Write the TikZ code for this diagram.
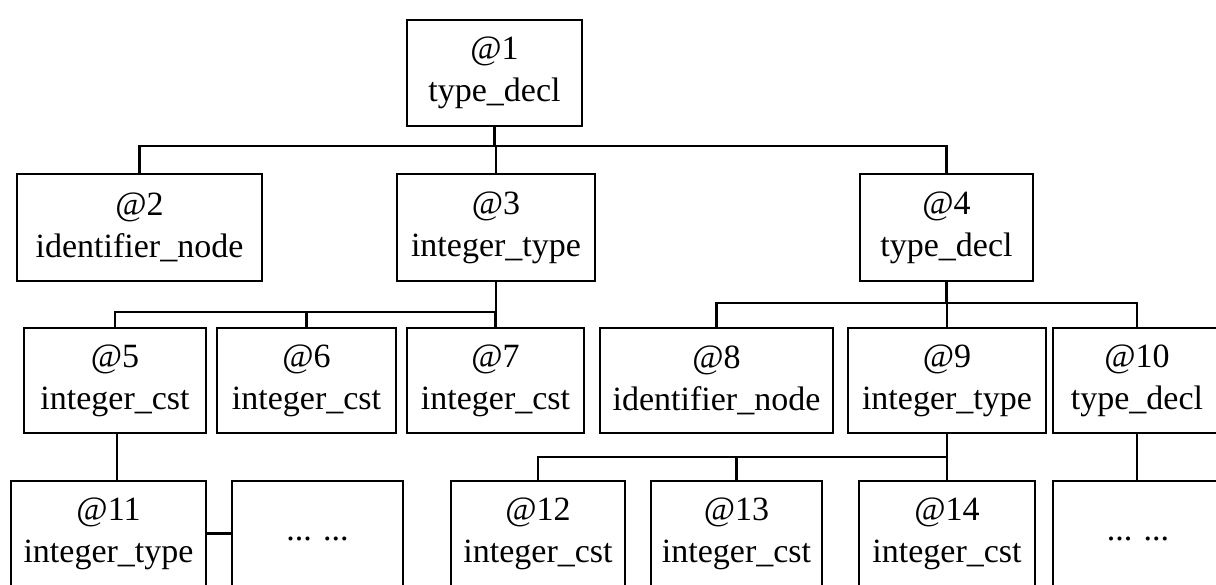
\documentclass[tikz,border=0pt]{standalone}
\usepackage{fontspec}
\setmainfont{Liberation Serif}
\tikzset{
  nodo/.style={draw, line width=2.4pt, minimum height=105pt, inner sep=0pt,
    align=center, font=\fontsize{34}{42}\selectfont},
  puntini/.style={nodo, text height=14pt, text depth=0pt},
  ramo/.style={line width=2.4pt}
}
\begin{document}
\begin{tikzpicture}[x=1pt, y=1pt]
        % Cornice della figura
        \useasboundingbox (0,0) rectangle (1216,585);
        \clip (0,0) rectangle (1216,585);

        % Radice
        \node[nodo, minimum width=175pt, minimum height=106pt] (n1) at (494.5,512) {@1\\type\_decl};

        % Secondo livello
        \node[nodo, minimum width=245pt, minimum height=107pt] (n2) at (139.5,357.5) {@2\\identifier\_node};
        \node[nodo, minimum width=198pt, minimum height=107pt] (n3) at (496,357.5) {@3\\integer\_type};
        \node[nodo, minimum width=173pt, minimum height=107pt] (n4) at (946.5,357.5) {@4\\type\_decl};

        % Terzo livello
        \node[nodo, minimum width=182pt] (n5) at (115,204.5) {@5\\integer\_cst};
        \node[nodo, minimum width=179pt] (n6) at (306.5,204.5) {@6\\integer\_cst};
        \node[nodo, minimum width=177pt] (n7) at (495.5,204.5) {@7\\integer\_cst};
        \node[nodo, minimum width=233pt] (n8) at (716.5,204.5) {@8\\identifier\_node};
        \node[nodo, minimum width=198pt] (n9) at (947,204.5) {@9\\integer\_type};
        \node[nodo, minimum width=168pt] (n10) at (1137,204.5) {@10\\type\_decl};

        % Quarto livello (tagliato in basso)
        \node[nodo, minimum width=195pt] (n11) at (108.5,51.5) {@11\\integer\_type};
        \node[puntini, minimum width=171pt] (d1) at (317.5,51.5) {... ...};
        \node[nodo, minimum width=174pt] (n12) at (538,51.5) {@12\\integer\_cst};
        \node[nodo, minimum width=171pt] (n13) at (736.5,51.5) {@13\\integer\_cst};
        \node[nodo, minimum width=176pt] (n14) at (947,51.5) {@14\\integer\_cst};
        \node[puntini, minimum width=170pt] (d2) at (1138,51.5) {... ...};

        % Rami
        \foreach \f in {n2,n3,n4}
          \draw[ramo] (n1.south) -- ++(0,-19) -| (\f.north);
        \foreach \f in {n5,n6,n7}
          \draw[ramo] (n3.south) -- ++(0,-30) -| (\f.north);
        \foreach \f in {n8,n9,n10}
          \draw[ramo] (n4.south) -- ++(0,-21) -| (\f.north);
        \foreach \f in {n12,n13,n14}
          \draw[ramo] (n9.south) -- ++(0,-23) -| (\f.north);
        \draw[ramo] ([xshift=2pt]n5.south) -- ([xshift=2pt]n5.south |- n11.north);
        \draw[ramo] (n10.south) -- (n10.south |- d2.north);
        \draw[ramo] (n11.east) -- (d1.west);
\end{tikzpicture}
\end{document}
